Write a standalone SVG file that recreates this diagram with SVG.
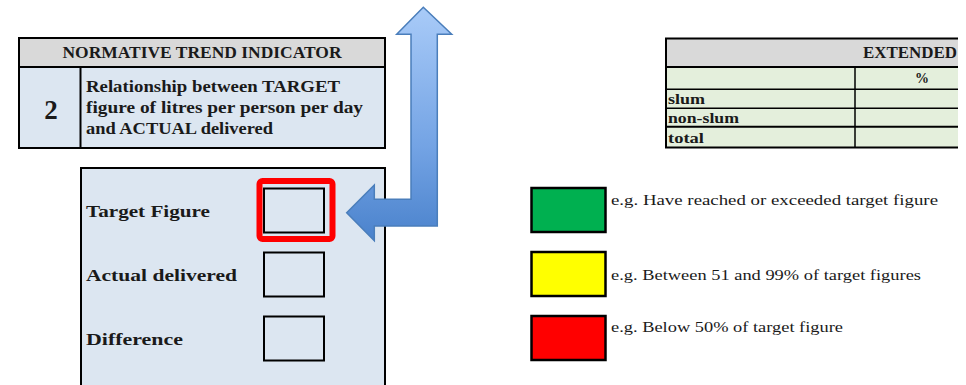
<svg xmlns="http://www.w3.org/2000/svg" width="966" height="385" viewBox="0 0 966 385">
<defs>
<linearGradient id="arrowGrad" gradientUnits="userSpaceOnUse" x1="0" y1="7" x2="0" y2="241">
<stop offset="0" stop-color="#a9cbf8"/>
<stop offset="0.6" stop-color="#73a3e4"/>
<stop offset="1" stop-color="#4a82cc"/>
</linearGradient>
</defs>
<style>
.cell{stroke:#000;stroke-width:2}
.b{font-family:"Liberation Serif",serif;font-weight:bold;fill:#1a1a1a}
.n{font-family:"Liberation Serif",serif;fill:#1a1a1a;font-size:15.5px}
.box{fill:none;stroke:#000;stroke-width:2}
.leg{stroke:#000;stroke-width:2.5}
</style>
<rect width="966" height="385" fill="#fff"/>

<g id="indicator-table">
<rect x="19" y="38" width="366" height="29" fill="#d9d9d9" class="cell"/>
<rect x="19" y="67" width="366" height="81" fill="#dce6f1" class="cell"/>
<line x1="80.5" y1="67" x2="80.5" y2="148" stroke="#000" stroke-width="2"/>
<text x="202" y="58" class="b" font-size="16" text-anchor="middle" textLength="279" lengthAdjust="spacingAndGlyphs">NORMATIVE TREND INDICATOR</text>
<text x="51" y="119" class="b" font-size="27" text-anchor="middle">2</text>
<text x="86" y="92" class="b" font-size="16" textLength="254" lengthAdjust="spacingAndGlyphs">Relationship between TARGET</text>
<text x="86" y="113" class="b" font-size="16" textLength="277" lengthAdjust="spacingAndGlyphs">figure of litres per person per day</text>
<text x="86" y="134" class="b" font-size="16" textLength="187" lengthAdjust="spacingAndGlyphs">and ACTUAL delivered</text>
</g>

<g id="values-panel">
<rect x="81" y="168" width="304" height="230" fill="#dce6f1" class="cell"/>
<text x="86" y="217" class="b" font-size="16.5" textLength="124" lengthAdjust="spacingAndGlyphs">Target Figure</text>
<text x="86" y="281" class="b" font-size="16.5" textLength="151" lengthAdjust="spacingAndGlyphs">Actual delivered</text>
<text x="86" y="345" class="b" font-size="16.5" textLength="97" lengthAdjust="spacingAndGlyphs">Difference</text>
<rect x="264" y="188.5" width="60" height="44" class="box"/>
<rect x="259.5" y="181" width="73" height="58" rx="3" fill="none" stroke="#ff0000" stroke-width="6"/>
<rect x="264" y="252.5" width="60" height="44" class="box"/>
<rect x="264" y="316.5" width="60" height="44" class="box"/>
</g>

<g id="connectors">
<path d="M423.3,7.3 L451.7,34.3 L437.3,34.3 L437.3,226 L374.3,226 L374.3,240.7 L346.7,212.7 L374.3,185 L374.3,199.3 L411,199.3 L411,34.3 L396.7,34.3 Z" fill="url(#arrowGrad)" stroke="#4a7ebb" stroke-width="1.5" stroke-linejoin="miter"/>
</g>

<g id="extended-table">
<rect x="666" y="38.5" width="292" height="28.5" fill="#d9d9d9" stroke="none"/>
<rect x="666" y="67" width="292" height="80.5" fill="#e4efdc" stroke="none"/>
<path d="M958,38.5 H666 V147.5 H958" fill="none" stroke="#000" stroke-width="2"/>
<line x1="666" y1="67" x2="958" y2="67" stroke="#000" stroke-width="2"/>
<line x1="666" y1="89.3" x2="958" y2="89.3" stroke="#000" stroke-width="1.5"/>
<line x1="666" y1="108.3" x2="958" y2="108.3" stroke="#000" stroke-width="1.5"/>
<line x1="666" y1="126.7" x2="958" y2="126.7" stroke="#000" stroke-width="2"/>
<line x1="855" y1="67" x2="855" y2="147.5" stroke="#000" stroke-width="1.5"/>
<text x="863" y="58" class="b" font-size="16" textLength="94" lengthAdjust="spacingAndGlyphs">EXTENDED</text>
<text x="922" y="83" class="b" font-size="14" text-anchor="middle">%</text>
<text x="668" y="104" class="b" font-size="14" textLength="37" lengthAdjust="spacingAndGlyphs">slum</text>
<text x="668" y="122.5" class="b" font-size="14" textLength="71" lengthAdjust="spacingAndGlyphs">non-slum</text>
<text x="668" y="143" class="b" font-size="14" textLength="36" lengthAdjust="spacingAndGlyphs">total</text>
</g>

<g id="legend-green">
<rect x="531.5" y="188" width="74" height="44" fill="#00b050" class="leg"/>
<text x="611" y="205" class="n" textLength="327" lengthAdjust="spacingAndGlyphs">e.g. Have reached or exceeded target figure</text>
</g>
<g id="legend-yellow">
<rect x="531.5" y="252" width="74" height="44" fill="#ffff00" class="leg"/>
<text x="611" y="280" class="n" textLength="310" lengthAdjust="spacingAndGlyphs">e.g. Between 51 and 99% of target figures</text>
</g>
<g id="legend-red">
<rect x="531.5" y="316" width="74" height="44" fill="#ff0000" class="leg"/>
<text x="611" y="332" class="n" textLength="232" lengthAdjust="spacingAndGlyphs">e.g. Below 50% of target figure</text>
</g>
</svg>
